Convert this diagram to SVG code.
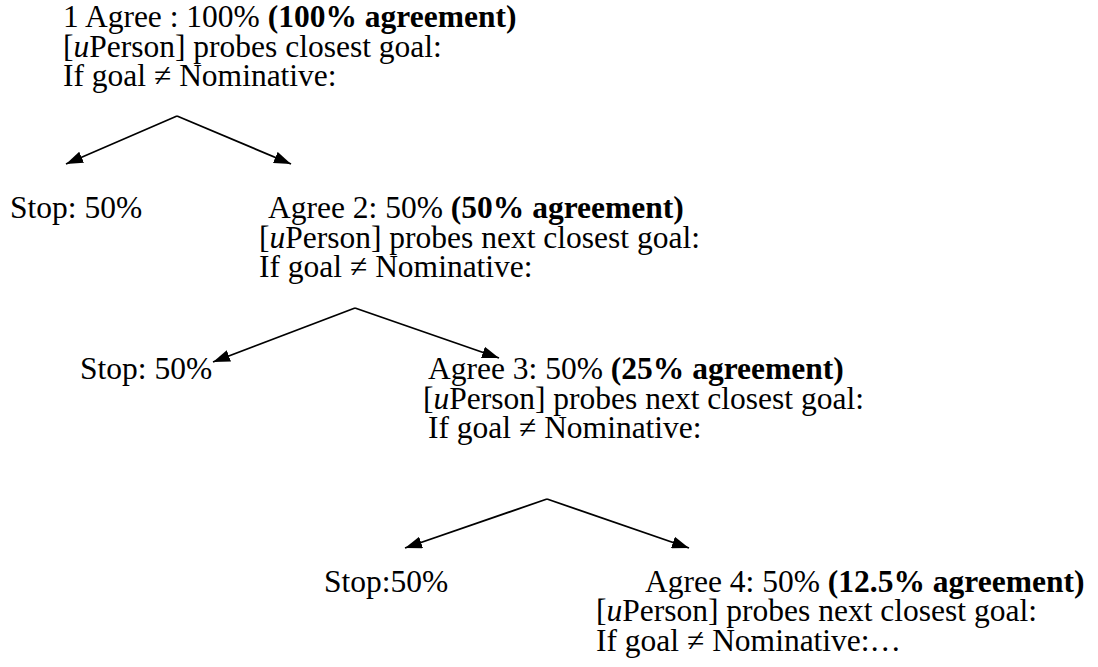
<svg xmlns="http://www.w3.org/2000/svg" width="1098" height="667" viewBox="0 0 1098 667">
<style>
text{font-family:"Liberation Serif","Times New Roman",serif;font-size:31.5px;fill:#000}
.b{font-weight:bold}
.i{font-style:italic}
.c{stroke:#000;stroke-width:1.8;fill:none}
</style>
<defs>
<marker id="ah" viewBox="0 0 17 12" refX="17" refY="6" markerWidth="17" markerHeight="12" markerUnits="userSpaceOnUse" orient="auto">
<path d="M0,0 L17,6 L0,12 Z" fill="#000"/>
</marker>
</defs>
<rect width="1098" height="667" fill="#fff"/>
<g id="connectors">
<line class="c" x1="177" y1="116" x2="66" y2="164" marker-end="url(#ah)"/>
<line class="c" x1="177" y1="116" x2="291" y2="164" marker-end="url(#ah)"/>
<line class="c" x1="355" y1="308" x2="213" y2="362" marker-end="url(#ah)"/>
<line class="c" x1="355" y1="308" x2="499" y2="358" marker-end="url(#ah)"/>
<line class="c" x1="547" y1="499" x2="405" y2="548" marker-end="url(#ah)"/>
<line class="c" x1="547" y1="499" x2="689" y2="548" marker-end="url(#ah)"/>
</g>
<g id="agree1">
<text x="63" y="27">1 Agree : 100% <tspan class="b">(100% agreement)</tspan></text>
<text x="63" y="57">[<tspan class="i">u</tspan>Person] probes closest goal:</text>
<text x="63" y="86">If goal ≠ Nominative:</text>
</g>
<g id="stop1"><text x="10" y="218">Stop: 50%</text></g>
<g id="agree2">
<text x="268" y="218">Agree 2: 50% <tspan class="b">(50% agreement)</tspan></text>
<text x="259" y="248">[<tspan class="i">u</tspan>Person] probes next closest goal:</text>
<text x="259" y="277">If goal ≠ Nominative:</text>
</g>
<g id="stop2"><text x="80" y="379">Stop: 50%</text></g>
<g id="agree3">
<text x="428" y="379">Agree 3: 50% <tspan class="b">(25% agreement)</tspan></text>
<text x="423" y="409">[<tspan class="i">u</tspan>Person] probes next closest goal:</text>
<text x="428" y="438">If goal ≠ Nominative:</text>
</g>
<g id="stop3"><text x="324" y="592">Stop:50%</text></g>
<g id="agree4">
<text x="645" y="592">Agree 4: 50% <tspan class="b">(12.5% agreement)</tspan></text>
<text x="596" y="621">[<tspan class="i">u</tspan>Person] probes next closest goal:</text>
<text x="596" y="651">If goal ≠ Nominative:…</text>
</g>
</svg>
